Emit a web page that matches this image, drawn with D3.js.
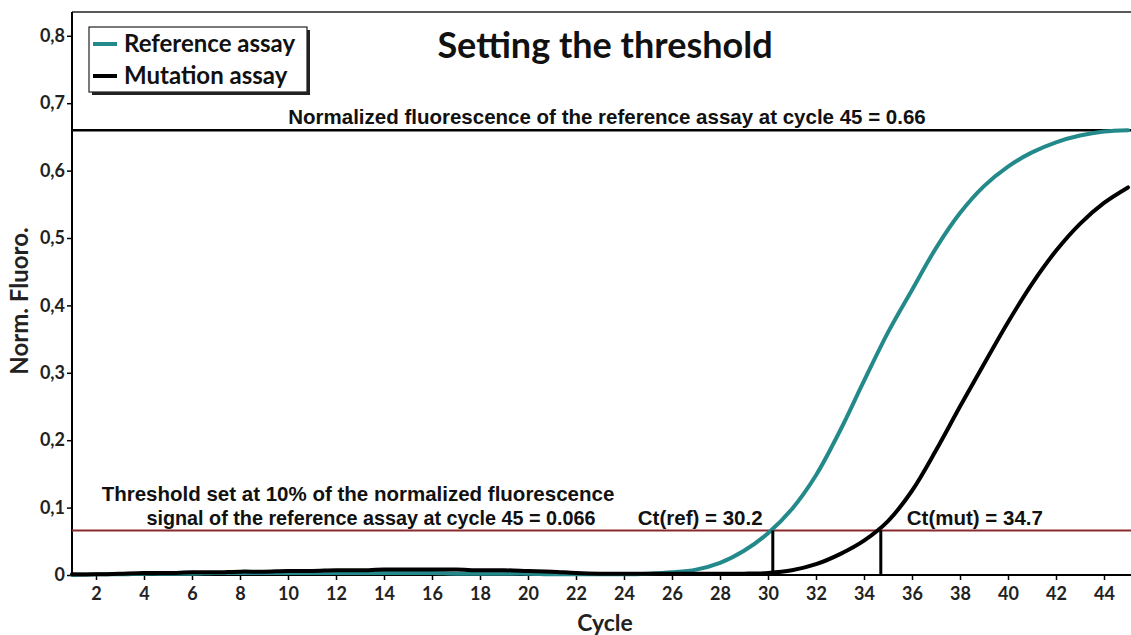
<!DOCTYPE html>
<html>
<head>
<meta charset="utf-8">
<script src="https://cdn.jsdelivr.net/npm/d3@7"></script>
<style>
  html, body { margin: 0; padding: 0; background: #fff; }
  svg { display: block; }
</style>
</head>
<body>
<svg id="chart" width="1131" height="635"></svg>
<script>
// ---- data ----
const cycles = d3.range(1, 46);
const referenceAssay = [0.000,0.001,0.001,0.002,0.002,0.002,0.003,0.003,0.003,0.003,
  0.003,0.003,0.003,0.003,0.003,0.003,0.002,0.002,0.002,0.002,
  0.001,0.001,0.001,0.001,0.002,0.004,0.008,0.018,0.036,0.062,
  0.098,0.148,0.214,0.288,0.360,0.423,0.485,0.537,0.577,0.606,
  0.627,0.642,0.652,0.658,0.660];
const mutationAssay = [0.001,0.001,0.002,0.003,0.003,0.004,0.004,0.005,0.005,0.006,
  0.006,0.007,0.007,0.008,0.008,0.008,0.008,0.007,0.007,0.006,
  0.005,0.003,0.002,0.002,0.002,0.002,0.002,0.002,0.002,0.003,
  0.007,0.016,0.031,0.051,0.080,0.125,0.185,0.250,0.313,0.375,
  0.432,0.481,0.521,0.552,0.575];
const xTicks = d3.range(2, 46, 2);
const yTicks = [0, 0.1, 0.2, 0.3, 0.4, 0.5, 0.6, 0.7, 0.8];
const plateau = 0.66;
const threshold = 0.066;
const ctRef = 30.2;
const ctMut = 34.7;
const seriesNames = ["Reference assay", "Mutation assay"];
const seriesColors = ["#23898a", "#000000"];

// ---- layout ----
const svg = d3.select("#chart");
const L = 72, R = 1131, T = 12, B = 575;
const x = d3.scaleLinear().domain([1, 45.125]).range([L, R]);
const y = d3.scaleLinear().domain([0, 0.8353]).range([B, T]);

const sansA = "'Liberation Sans', Arial, sans-serif";
const sansC = "Lato, 'Open Sans', sans-serif";

// frame top
svg.append("line").attr("x1", L).attr("x2", R).attr("y1", T).attr("y2", T)
  .attr("stroke", "#222").attr("stroke-width", 1.5);

// axes
const yAxis = svg.append("g").attr("transform", `translate(${L},0)`)
  .call(d3.axisLeft(y).tickValues(yTicks).tickSize(5).tickSizeOuter(0)
    .tickFormat(d => d === 0 ? "0" : d3.format(".1f")(d).replace(".", ",")));
yAxis.select(".domain").attr("stroke", "#000").attr("stroke-width", 2)
  .attr("d", `M0,${T}V${B}`);
yAxis.selectAll(".tick line").attr("stroke", "#000").attr("stroke-width", 1.5);
yAxis.selectAll(".tick text").attr("font-family", sansC).attr("font-weight", "bold")
  .attr("font-size", 18).attr("fill", "#222").attr("x", -7);

const xAxis = svg.append("g").attr("transform", `translate(0,${B})`)
  .call(d3.axisBottom(x).tickValues(xTicks).tickSize(5).tickSizeOuter(0));
xAxis.select(".domain").attr("stroke", "#000").attr("stroke-width", 2)
  .attr("d", `M${L},0H${R}`);
xAxis.selectAll(".tick line").attr("stroke", "#000").attr("stroke-width", 1.5);
xAxis.selectAll(".tick text").attr("font-family", sansC).attr("font-weight", "bold")
  .attr("font-size", 18).attr("fill", "#222").attr("y", 12);

// axis titles
svg.append("text").attr("x", 605).attr("y", 631).attr("text-anchor", "middle")
  .attr("font-family", sansC).attr("font-weight", "bold").attr("font-size", 23)
  .attr("fill", "#222").text("Cycle");
svg.append("text").attr("transform", `translate(28,${301}) rotate(-90)`)
  .attr("text-anchor", "middle").attr("font-family", sansC).attr("font-weight", "bold")
  .attr("font-size", 24).attr("fill", "#222").text("Norm. Fluoro.");

// plateau line
svg.append("line").attr("x1", L).attr("x2", R).attr("y1", y(plateau)).attr("y2", y(plateau))
  .attr("stroke", "#000").attr("stroke-width", 2.5);
// threshold line
svg.append("line").attr("x1", L).attr("x2", R).attr("y1", y(threshold)).attr("y2", y(threshold))
  .attr("stroke", "#8b2a2e").attr("stroke-width", 2);

// curves
const line = d3.line().x((d, i) => x(cycles[i])).y(d => y(d)).curve(d3.curveCatmullRom.alpha(0.5));
[referenceAssay, mutationAssay].forEach((s, k) => {
  svg.append("path").datum(s).attr("d", line).attr("fill", "none")
    .attr("stroke", seriesColors[k]).attr("stroke-width", 4)
    .attr("stroke-linejoin", "round").attr("stroke-linecap", "round");
});

// Ct drop lines
[ctRef, ctMut].forEach(c => {
  svg.append("line").attr("x1", x(c)).attr("x2", x(c)).attr("y1", y(threshold)).attr("y2", B)
    .attr("stroke", "#000").attr("stroke-width", 3);
});

// annotations
const ann = (tx, ty, txt, anchor, fs) => svg.append("text").attr("x", tx).attr("y", ty)
  .attr("text-anchor", anchor || "start").attr("font-family", sansA).attr("font-weight", "bold")
  .attr("font-size", fs || 20.5).attr("fill", "#111").text(txt);
ann(607, 124, "Normalized fluorescence of the reference assay at cycle 45 = 0.66", "middle");
ann(358, 501, "Threshold set at 10% of the normalized fluorescence", "middle");
ann(371, 525, "signal of the reference assay at cycle 45 = 0.066", "middle", 19.8);
ann(x(ctRef) - 135, 525, "Ct(ref) = 30.2", "start");
ann(x(ctMut) + 26, 525, "Ct(mut) = 34.7", "start");

// title
svg.append("text").attr("x", 605).attr("y", 58).attr("text-anchor", "middle")
  .attr("font-family", sansC).attr("font-weight", "bold").attr("font-size", 36)
  .attr("fill", "#111").text("Setting the threshold");

// legend
const lg = svg.append("g");
lg.append("rect").attr("x", 92).attr("y", 30).attr("width", 218).attr("height", 65)
  .attr("fill", "#222");
lg.append("rect").attr("x", 89).attr("y", 27).attr("width", 218).attr("height", 65)
  .attr("fill", "#fff").attr("stroke", "#222").attr("stroke-width", 1.2);
seriesNames.forEach((n, k) => {
  const yy = 44 + k * 32;
  lg.append("line").attr("x1", 93).attr("x2", 117).attr("y1", yy).attr("y2", yy)
    .attr("stroke", seriesColors[k]).attr("stroke-width", 4);
  lg.append("text").attr("x", 124).attr("y", yy + 8).attr("font-family", sansC)
    .attr("font-weight", "bold").attr("font-size", 24).attr("fill", "#111").text(n);
});
</script>
</body>
</html>
